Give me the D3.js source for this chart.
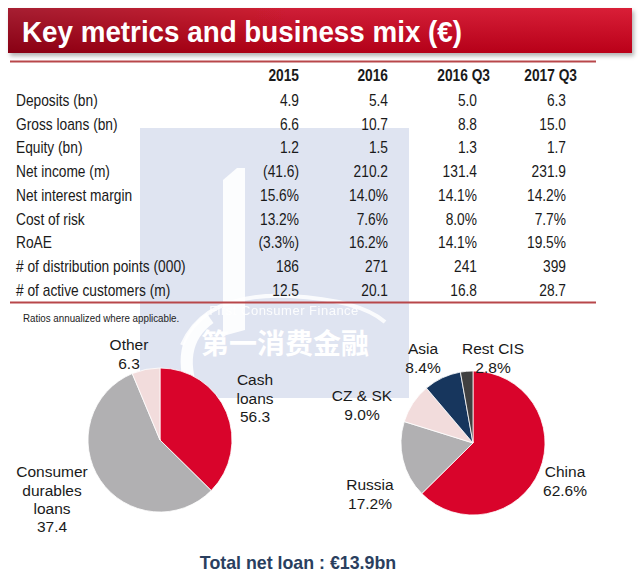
<!DOCTYPE html>
<html>
<head>
<meta charset="utf-8">
<script src="https://cdn.jsdelivr.net/npm/d3@7"></script>
<style>
  html, body { margin: 0; padding: 0; background: #fff; }
  svg { display: block; }
</style>
</head>
<body>
<svg id="chart" width="640" height="576"></svg>
<script>
// ---------------- DATA ----------------
const title = "Key metrics and business mix (€)";
const periods = ["2015", "2016", "2016 Q3", "2017 Q3"];
const metrics = [
  "Deposits (bn)", "Gross loans (bn)", "Equity (bn)", "Net income (m)",
  "Net interest margin", "Cost of risk", "RoAE",
  "# of distribution points (000)", "# of active customers (m)"
];
const col2015 = ["4.9", "6.6", "1.2", "(41.6)", "15.6%", "13.2%", "(3.3%)", "186", "12.5"];
const col2016 = ["5.4", "10.7", "1.5", "210.2", "14.0%", "7.6%", "16.2%", "271", "20.1"];
const col2016Q3 = ["5.0", "8.8", "1.3", "131.4", "14.1%", "8.0%", "14.1%", "241", "16.8"];
const col2017Q3 = ["6.3", "15.0", "1.7", "231.9", "14.2%", "7.7%", "19.5%", "399", "28.7"];
const footnote = "Ratios annualized where applicable.";

// Product mix pie (slice sizes as drawn; printed numbers as labelled)
const productNames = [["Cash", "loans"], ["Consumer", "durables", "loans"], ["Other"]];
const productLabelValues = ["56.3", "37.4", "6.3"];
const productSliceShares = [37.4, 56.3, 6.3];

// Geographic mix pie
const regionNames = [["China"], ["Russia"], ["CZ & SK"], ["Asia"], ["Rest CIS"]];
const regionShares = [62.6, 17.2, 9.0, 8.4, 2.8];

const totalText = "Total net loan : €13.9bn";

// ---------------- STYLE / LAYOUT ----------------
const sans = "'Liberation Sans', Arial, sans-serif";
const SX = 0.86; // horizontal condensing to mimic a narrow face
const productColors = ["#d9042b", "#b1b0b2", "#f2dcdc"];
const regionColors = ["#d9042b", "#b1b0b2", "#f2dcdc", "#17365d", "#404040"];

const svg = d3.select("#chart");
const defs = svg.append("defs");

const grad = defs.append("linearGradient").attr("id", "tg").attr("x1", 0).attr("x2", 1).attr("y1", 0).attr("y2", 0);
grad.append("stop").attr("offset", "0%").attr("stop-color", "#9a0012");
grad.append("stop").attr("offset", "45%").attr("stop-color", "#c8001a");
grad.append("stop").attr("offset", "100%").attr("stop-color", "#d4001c");
const gradV = defs.append("linearGradient").attr("id", "tgv").attr("x1", 0).attr("x2", 0).attr("y1", 0).attr("y2", 1);
gradV.append("stop").attr("offset", "0%").attr("stop-color", "#fff").attr("stop-opacity", 0.12);
gradV.append("stop").attr("offset", "100%").attr("stop-color", "#000").attr("stop-opacity", 0.12);
const shadow = defs.append("filter").attr("id", "sh").attr("x", "-5%").attr("y", "-20%").attr("width", "110%").attr("height", "150%");
shadow.append("feDropShadow").attr("dx", 2).attr("dy", 3).attr("stdDeviation", 2).attr("flood-color", "#000").attr("flood-opacity", 0.3);

// ---------------- WATERMARK ----------------
const wm = svg.append("g");
wm.append("rect").attr("x", 140).attr("y", 128).attr("width", 269).attr("height", 270).attr("fill", "#dfe4f1");
wm.append("path").attr("d", "M223,180 L237,168 L245,168 L245,330 L223,336 Z").attr("fill", "#ffffff").attr("opacity", 0.9);
wm.append("path").attr("d", "M182,345 Q205,292 290,296 Q360,300 385,322").attr("fill", "none").attr("stroke", "#ffffff").attr("stroke-width", 4).attr("opacity", 0.85);
wm.append("path").attr("d", "M196,400 Q172,345 210,318").attr("fill", "none").attr("stroke", "#ffffff").attr("stroke-width", 12).attr("opacity", 0.9);
wm.append("text").attr("x", 284).attr("y", 315).attr("text-anchor", "middle")
  .attr("font-family", sans).attr("font-size", 13).attr("letter-spacing", 0.5)
  .attr("fill", "#ffffff").attr("opacity", 0.9).text("First Consumer Finance");
wm.append("text").attr("x", 285).attr("y", 354).attr("text-anchor", "middle")
  .attr("font-family", "'Noto Sans CJK SC', sans-serif").attr("font-size", 28).attr("font-weight", 700)
  .attr("fill", "#ffffff").text("第一消费金融");

// ---------------- TITLE ----------------
svg.append("rect").attr("x", 8).attr("y", 8).attr("width", 624).attr("height", 45)
  .attr("fill", "url(#tg)").attr("filter", "url(#sh)");
svg.append("rect").attr("x", 8).attr("y", 8).attr("width", 624).attr("height", 45).attr("fill", "url(#tgv)");
svg.append("text").attr("x", 22).attr("y", 41.5)
  .attr("font-family", sans).attr("font-weight", 700).attr("font-size", 29)
  .attr("textLength", 440).attr("lengthAdjust", "spacingAndGlyphs")
  .attr("fill", "#ffffff").text(title);

svg.append("line").attr("x1", 10).attr("x2", 596).attr("y1", 61.5).attr("y2", 61.5)
  .attr("stroke", "#b8474a").attr("stroke-width", 2);

// ---------------- TABLE ----------------
const columns = [col2015, col2016, col2016Q3, col2017Q3];
const colRight = [299, 388, 477, 566];
const headRight = [299, 388, 490, 577];
const rowY = d3.scalePoint().domain(metrics).range([100.5, 290]);

const table = svg.append("g").attr("transform", `scale(${SX},1)`)
  .attr("font-family", sans).attr("fill", "#1a1a1a");
table.selectAll("text.head").data(periods).join("text")
  .attr("class", "head")
  .attr("x", (d, i) => headRight[i] / SX).attr("y", 75.5).attr("dy", "0.35em")
  .attr("text-anchor", "end").attr("font-weight", 700).attr("font-size", 16)
  .text(d => d);
table.selectAll("text.metric").data(metrics).join("text")
  .attr("class", "metric")
  .attr("x", 16 / SX).attr("y", d => rowY(d)).attr("dy", "0.35em")
  .attr("font-size", 16).text(d => d);
columns.forEach((col, ci) => {
  table.selectAll("text.c" + ci).data(col).join("text")
    .attr("class", "c" + ci)
    .attr("x", colRight[ci] / SX).attr("y", (d, i) => rowY(metrics[i])).attr("dy", "0.35em")
    .attr("text-anchor", "end").attr("font-size", 16).text(d => d);
});

svg.append("line").attr("x1", 10).attr("x2", 596).attr("y1", 302.5).attr("y2", 302.5)
  .attr("stroke", "#b8474a").attr("stroke-width", 2);
svg.append("g").attr("transform", "scale(0.85,1)")
  .append("text").attr("x", 23 / 0.85).attr("y", 318).attr("dy", "0.35em")
  .attr("font-family", sans).attr("font-size", 11.5).attr("fill", "#222").text(footnote);

// ---------------- PIES ----------------
const pie = d3.pie().sort(null).value(d => d);
const r = 72;
const arc = d3.arc().innerRadius(0).outerRadius(r);

function drawPie(cx, cy, values, colors) {
  const g = svg.append("g").attr("transform", `translate(${cx},${cy})`);
  g.selectAll("path").data(pie(values)).join("path")
    .attr("d", arc).attr("fill", (d, i) => colors[i])
    .attr("stroke", "#ffffff").attr("stroke-width", 0.8);
  return g;
}

function drawLabel(x, y, lines) {
  const t = svg.append("text").attr("x", x).attr("y", y)
    .attr("text-anchor", "middle").attr("font-family", sans).attr("font-size", 15.5).attr("fill", "#1a1a1a");
  lines.forEach((ln, i) => {
    t.append("tspan").attr("x", x).attr("dy", i === 0 ? "0.35em" : 18.3).text(ln);
  });
}

const lcx = 160, lcy = 440;
drawPie(lcx, lcy, productSliceShares, productColors);
const productLabelPos = [[255, 380], [52, 472], [129, 345]];
productNames.forEach((n, i) => {
  drawLabel(productLabelPos[i][0], productLabelPos[i][1], n.concat([productLabelValues[i]]));
});

const rcx = 473, rcy = 443;
drawPie(rcx, rcy, regionShares, regionColors);
const regionLabelPos = [[565, 472], [370, 485], [362, 396], [423, 349], [493, 349]];
regionNames.forEach((n, i) => {
  drawLabel(regionLabelPos[i][0], regionLabelPos[i][1], n.concat([d3.format(".1f")(regionShares[i]) + "%"]));
});

// ---------------- TOTAL ----------------
svg.append("text").attr("x", 298).attr("y", 563).attr("dy", "0.35em").attr("text-anchor", "middle")
  .attr("font-family", sans).attr("font-weight", 700).attr("font-size", 17.8).attr("fill", "#2a3f5f")
  .text(totalText);
</script>
</body>
</html>
